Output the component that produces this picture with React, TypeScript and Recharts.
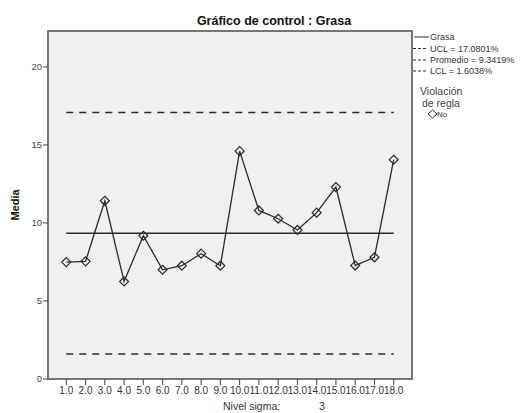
import React from 'react';
import {
  LineChart,
  Line,
  XAxis,
  YAxis,
  ReferenceArea,
  Customized,
} from 'recharts';

const periods = [1, 2, 3, 4, 5, 6, 7, 8, 9, 10, 11, 12, 13, 14, 15, 16, 17, 18];
const grasa = [7.49, 7.54, 11.42, 6.25, 9.18, 7.0, 7.26, 8.03, 7.26, 14.6, 10.8, 10.27, 9.55, 10.66, 12.3, 7.27, 7.8, 14.05];
const ucl = 17.0801;
const mean = 9.3419;
const lcl = 1.6038;
const yTicks = [0, 5, 10, 15, 20];
const title = 'Gráfico de control : Grasa';
const yLabel = 'Media';
const sigmaLabel = 'Nivel sigma:';
const sigmaValue = '3';
const legendRows = [
  { label: 'Grasa', dashed: false },
  { label: 'UCL = 17.0801%', dashed: true },
  { label: 'Promedio = 9.3419%', dashed: true },
  { label: 'LCL = 1.6038%', dashed: true },
];

const data = periods.map((p, i) => ({ period: p, grasa: grasa[i], ucl, mean, lcl }));

const FONT = '"Liberation Sans", Arial, sans-serif';
const INK = '#2b2b2b';

const Diamond = (props: any) => {
  const { cx, cy } = props;
  if (cx == null || cy == null) return null;
  const r = 4.5;
  return (
    <polygon
      points={`${cx},${cy - r} ${cx + r},${cy} ${cx},${cy + r} ${cx - r},${cy}`}
      fill="none"
      stroke={INK}
      strokeWidth={1.2}
    />
  );
};

const Extras = () => (
  <g fontFamily={FONT}>
    <text x={274} y={21} textAnchor="middle" dominantBaseline="central" fontSize={12.5} fontWeight="bold" fill="#111">
      {title}
    </text>
    <text
      x={15}
      y={205}
      textAnchor="middle"
      dominantBaseline="central"
      fontSize={11}
      fontWeight="bold"
      fill="#111"
      transform="rotate(-90 15 205)"
    >
      {yLabel}
    </text>
    <text x={223} y={406} dominantBaseline="central" fontSize={10.5} fill="#333">
      {sigmaLabel}
    </text>
    <text x={322} y={406} textAnchor="middle" dominantBaseline="central" fontSize={10.5} fill="#333">
      {sigmaValue}
    </text>
    {legendRows.map((row, i) => {
      const y = [37, 48.5, 60, 71][i];
      return (
        <g key={row.label}>
          {row.dashed ? (
            <line x1={413} y1={y} x2={428} y2={y} stroke={INK} strokeWidth={1} strokeDasharray="3 2" />
          ) : (
            <line x1={414} y1={y} x2={429} y2={y} stroke={INK} strokeWidth={1} />
          )}
          <text x={430} y={y} dominantBaseline="central" fontSize={9} fill="#333">
            {row.label}
          </text>
        </g>
      );
    })}
    <text x={420} y={91} dominantBaseline="central" fontSize={10.5} fill="#444">
      Violación
    </text>
    <text x={422} y={103} dominantBaseline="central" fontSize={10.5} fill="#444">
      de regla
    </text>
    <polygon points="428,114 432.5,110 437,114 432.5,118" fill="none" stroke={INK} strokeWidth={1} />
    <text x={437} y={114.5} dominantBaseline="central" fontSize={8} fill="#333">
      No
    </text>
  </g>
);

export default function App() {
  return (
    <div style={{ position: 'absolute', left: 0, top: 0, width: 522, height: 413, background: '#fff' }}>
      <LineChart
        width={522}
        height={413}
        data={data}
        margin={{ top: 31, right: 110, bottom: 4, left: 0 }}
      >
        <ReferenceArea
          x1={0.05}
          x2={18.95}
          y1={0}
          y2={22.3}
          fill="#f0f0f0"
          fillOpacity={1}
          stroke="#777"
          strokeWidth={2}
          ifOverflow="visible"
        />
        <XAxis
          dataKey="period"
          type="number"
          domain={[0.05, 18.95]}
          ticks={periods}
          interval={0}
          tickFormatter={(v: number) => v.toFixed(1)}
          axisLine={false}
          tickLine={{ stroke: '#444' }}
          tickSize={6}
          tick={{ fontSize: 10, fill: '#333', fontFamily: FONT }}
          height={30}
          allowDataOverflow
        />
        <YAxis
          type="number"
          domain={[0, 22.3]}
          ticks={yTicks}
          interval={0}
          axisLine={false}
          tickLine={{ stroke: '#444' }}
          tickSize={5}
          tickMargin={1}
          tick={{ fontSize: 9.5, fill: '#444', fontFamily: FONT }}
          width={48}
          allowDataOverflow
        />
        <Line dataKey="ucl" stroke={INK} strokeWidth={1.5} strokeDasharray="7 6" dot={false} isAnimationActive={false} />
        <Line dataKey="lcl" stroke={INK} strokeWidth={1.5} strokeDasharray="7 6" dot={false} isAnimationActive={false} />
        <Line dataKey="mean" stroke={INK} strokeWidth={1.5} dot={false} isAnimationActive={false} />
        <Line
          dataKey="grasa"
          stroke={INK}
          strokeWidth={1.3}
          dot={<Diamond />}
          activeDot={false}
          isAnimationActive={false}
        />
        <Customized component={Extras} />
      </LineChart>
    </div>
  );
}
